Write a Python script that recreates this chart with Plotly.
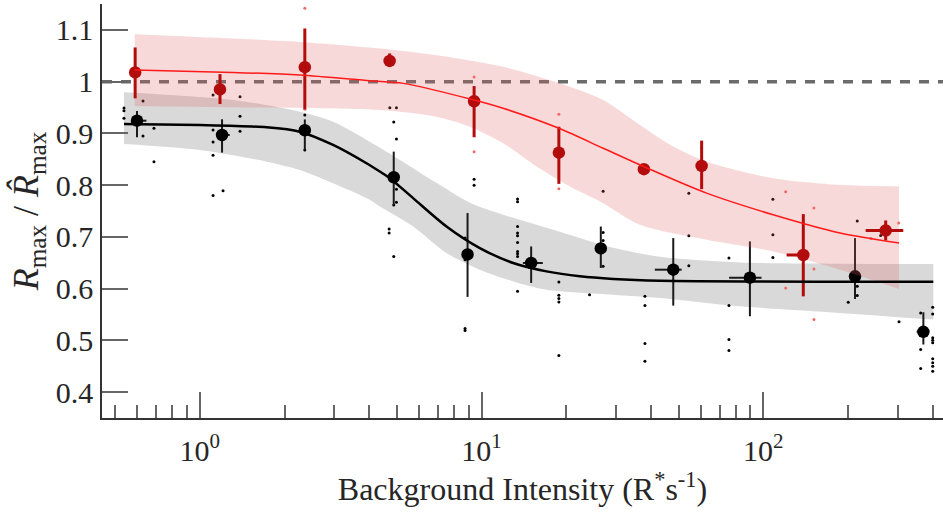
import math
import plotly.graph_objects as go

# ---------------- data ----------------
# individual cells, dark-adapted group (black)
black_cells_x = [0.5385, 0.5385, 0.5385, 0.629, 0.629, 0.688, 0.688,
                 1.115, 1.115, 1.115, 1.115, 1.115, 1.21, 1.39, 1.39, 1.39,
                 2.36, 2.36,
                 4.727, 4.99, 4.88, 4.99, 4.99, 4.99, 4.88, 4.7, 4.7, 4.88,
                 9.41, 9.41, 8.74, 8.74, 8.74, 8.74,
                 13.42, 13.42, 13.42, 13.42, 13.42, 13.42, 13.42, 13.42, 13.42, 13.42,
                 18.81, 18.81, 18.81, 18.81, 18.81,
                 24.17, 27.0, 27.0, 27.0, 27.0,
                 38.0, 38.0, 38.0, 38.0,
                 54.4, 54.4, 54.4,
                 75.5, 75.5, 75.5, 75.5,
                 108.1, 108.1, 108.1,
                 200.1, 215.4, 215.4, 215.4, 260.8, 303.0,
                 361.7, 361.7, 361.7, 399, 399, 399, 399, 399, 399, 399, 399, 399]
black_cells_y = [0.949, 0.9438, 0.929, 0.9625, 0.895, 0.9098, 0.8454,
                 0.974, 0.9066, 0.8834, 0.8578, 0.7799, 0.7889, 0.9708, 0.933, 0.904,
                 0.9355, 0.868,
                 0.9496, 0.9496, 0.922, 0.889, 0.792, 0.767, 0.7614, 0.715, 0.7074, 0.6622,
                 0.8115, 0.7999, 0.6977, 0.6559, 0.5228, 0.519,
                 0.773, 0.768, 0.72, 0.7074, 0.7022, 0.6892, 0.6719, 0.6674, 0.6622, 0.5948,
                 0.6129, 0.587, 0.5807, 0.5743, 0.4708,
                 0.5884, 0.7884, 0.7085, 0.6931, 0.643,
                 0.5851, 0.5672, 0.4939, 0.4598,
                 0.7845, 0.7022, 0.6443,
                 0.6592, 0.5672, 0.5016, 0.4804,
                 0.7729, 0.7041, 0.6603,
                 0.5735, 0.7305, 0.6044, 0.5865, 0.7027, 0.5358,
                 0.5531, 0.4823, 0.4457, 0.5639, 0.5512, 0.5049, 0.5003, 0.4953, 0.4644,
                 0.4567, 0.4501, 0.4405]

# individual cells, red group
red_cells_x = [2.36, 2.36, 9.41, 9.41, 18.81, 18.81, 60.4, 60.4,
               120.0, 120.0, 151.2, 151.2, 151.2, 241.0, 302.2]
red_cells_y = [1.1418, 0.9465, 1.0088, 0.8647, 0.9368, 0.7928, 0.8724, 0.8005,
               0.787, 0.6013, 0.7556, 0.638, 0.5402, 0.697, 0.7266]

# binned means with ranges
black_mean_x = [0.599, 1.2, 2.36, 4.88, 8.92, 15.0, 26.5, 47.9, 89.6, 211.5, 369.7]
black_mean_y = [0.9245, 0.8969, 0.906, 0.8153, 0.6661, 0.6495, 0.6777, 0.6366, 0.6212, 0.6237, 0.5165]
black_top = [0.9432, 0.9272, 0.927, 0.8647, 0.746, 0.6815, 0.72, 0.6977, 0.6912, 0.6977, 0.5543]
black_bottom = [0.8925, 0.8628, 0.868, 0.762, 0.584, 0.611, 0.64, 0.5672, 0.5466, 0.580, 0.492]
black_x_low = [0.572, 1.146, 2.36, 4.88, 8.92, 14.02, 26.5, 41.2, 75.6, 211.5, 350.0]
black_x_high = [0.647, 1.278, 2.36, 4.88, 8.92, 16.5, 26.5, 51.3, 98.5, 211.5, 369.7]

red_mean_x = [0.59, 1.18, 2.36, 4.72, 9.41, 18.81, 37.68, 60.4, 138.6, 271.7]
red_mean_y = [1.0178, 0.985, 1.028, 1.040, 0.962, 0.8628, 0.8308, 0.8371, 0.665, 0.7124]
red_top = [1.066, 1.0145, 1.1027, 1.0545, 0.9914, 0.9129, 0.8308, 0.886, 0.744, 0.7317]
red_bottom = [0.9677, 0.9567, 0.9465, 1.0286, 0.8925, 0.8024, 0.8308, 0.7922, 0.5851, 0.6931]
red_x_low = [0.59, 1.18, 2.36, 4.72, 9.41, 18.81, 37.68, 60.4, 120.9, 230.7]
red_x_high = [0.59, 1.18, 2.36, 4.72, 9.41, 18.81, 37.68, 60.4, 138.6, 313.7]

# fitted curves
black_fit_x = [0.5385, 1.0, 1.725, 2.265, 2.973, 3.906, 4.355, 4.727, 5.717, 7.51,
               9.86, 12.95, 17.01, 22.34, 29.33, 42.95, 401]
black_fit_y = [0.9181, 0.9162, 0.9118, 0.9033, 0.8776, 0.8423, 0.8262, 0.8134, 0.7749, 0.7201,
               0.6784, 0.6495, 0.6333, 0.6237, 0.6187, 0.6154, 0.6135]
red_fit_x = [0.5878, 1.313, 2.265, 4.013, 5.27, 9.41, 11.93, 18.81, 27.02, 37.68,
             62.9, 108.4, 187.1, 303]
red_fit_y = [1.0223, 1.0178, 1.0126, 1.0016, 0.9966, 0.9644, 0.9484, 0.9098, 0.8713, 0.8358,
             0.7845, 0.7427, 0.7074, 0.6881]

# confidence bands
black_band_upper_x = [0.5385, 1.313, 2.265, 2.973, 4.013, 5.27, 6.92, 9.09, 11.93, 17.01,
                      29.33, 42.95, 82.6, 187.1, 401]
black_band_upper_y = [0.9793, 0.9644, 0.9418, 0.9226, 0.884, 0.8449, 0.8044, 0.7658, 0.7427, 0.7176,
                      0.679, 0.6617, 0.6507, 0.6482, 0.6476]
black_band_lower_x = [0.5385, 1.0, 1.725, 2.265, 2.973, 3.906, 4.355, 5.717, 7.51, 9.86,
                      12.95, 17.01, 29.33, 42.95, 82.6, 187.1, 401]
black_band_lower_y = [0.8796, 0.868, 0.8454, 0.8294, 0.8038, 0.7749, 0.7587, 0.7201, 0.6688, 0.6366,
                      0.614, 0.598, 0.5884, 0.582, 0.5658, 0.5531, 0.5402]
red_band_upper_x = [0.5878, 1.313, 2.265, 4.013, 6.923, 11.93, 20.58, 27.02, 36.48, 47.88,
                    62.9, 108.4, 187.1, 303]
red_band_upper_y = [1.0917, 1.0834, 1.0768, 1.066, 1.0512, 1.0286, 0.990, 0.9644, 0.9162, 0.8744,
                    0.8454, 0.8134, 0.8005, 0.7972]
red_band_lower_x = [0.5878, 1.313, 4.355, 6.923, 9.09, 11.93, 15.68, 20.58, 27.02, 36.48,
                    62.9, 108.4, 187.1, 303]
red_band_lower_y = [0.9528, 0.9503, 0.9451, 0.9322, 0.9129, 0.8809, 0.8358, 0.7972, 0.7652, 0.7234,
                    0.6944, 0.6719, 0.6366, 0.5994]

reference_level = 1.0

x_minor_ticks = [0.5, 0.6, 0.7, 0.8, 0.9, 2, 3, 4, 5, 6, 7, 8, 9,
                 20, 30, 40, 50, 60, 70, 80, 90, 200, 300, 400]
x_major_ticks = [1, 10, 100]
x_major_labels = ["10<sup>0</sup>", "10<sup>1</sup>", "10<sup>2</sup>"]
y_ticks = [0.4, 0.5, 0.6, 0.7, 0.8, 0.9, 1.0, 1.1]
y_labels = ["0.4", "0.5", "0.6", "0.7", "0.8", "0.9", "1", "1.1"]

# ---------------- styles ----------------
BLACK = "#000000"
RED = "#b30c0c"
RED_DOT = "#f06a6a"
GRAY_FILL = "rgba(128,128,128,0.30)"
RED_FILL = "rgba(225,95,95,0.24)"
FONT = "Liberation Serif"
TEXT = "#262626"

fig = go.Figure()

# gray band
fig.add_trace(go.Scatter(x=black_band_lower_x, y=black_band_lower_y, mode="lines",
                         line=dict(width=0, shape="spline", smoothing=0.8),
                         hoverinfo="skip", showlegend=False))
fig.add_trace(go.Scatter(x=black_band_upper_x, y=black_band_upper_y, mode="lines",
                         line=dict(width=0, shape="spline", smoothing=0.8),
                         fill="tonexty", fillcolor=GRAY_FILL,
                         hoverinfo="skip", showlegend=False))

# black individual cells
fig.add_trace(go.Scatter(x=black_cells_x, y=black_cells_y, mode="markers",
                         marker=dict(color=BLACK, size=3), showlegend=False))

# black means
fig.add_trace(go.Scatter(
    x=black_mean_x, y=black_mean_y, mode="markers",
    marker=dict(color=BLACK, size=12.5),
    error_y=dict(type="data", symmetric=False,
                 array=[t - m for t, m in zip(black_top, black_mean_y)],
                 arrayminus=[m - b for b, m in zip(black_bottom, black_mean_y)],
                 color="#1a1a1a", thickness=2, width=0),
    error_x=dict(type="data", symmetric=False,
                 array=[h - m for h, m in zip(black_x_high, black_mean_x)],
                 arrayminus=[m - l for l, m in zip(black_x_low, black_mean_x)],
                 color="#1a1a1a", thickness=2, width=0),
    showlegend=False))

# red band
fig.add_trace(go.Scatter(x=red_band_lower_x, y=red_band_lower_y, mode="lines",
                         line=dict(width=0, shape="spline", smoothing=0.8),
                         hoverinfo="skip", showlegend=False))
fig.add_trace(go.Scatter(x=red_band_upper_x, y=red_band_upper_y, mode="lines",
                         line=dict(width=0, shape="spline", smoothing=0.8),
                         fill="tonexty", fillcolor=RED_FILL,
                         hoverinfo="skip", showlegend=False))

# red individual cells
fig.add_trace(go.Scatter(x=red_cells_x, y=red_cells_y, mode="markers",
                         marker=dict(color=RED_DOT, size=3), showlegend=False))

# red means
fig.add_trace(go.Scatter(
    x=red_mean_x, y=red_mean_y, mode="markers",
    marker=dict(color=RED, size=12.5),
    error_y=dict(type="data", symmetric=False,
                 array=[t - m for t, m in zip(red_top, red_mean_y)],
                 arrayminus=[m - b for b, m in zip(red_bottom, red_mean_y)],
                 color=RED, thickness=3, width=0),
    error_x=dict(type="data", symmetric=False,
                 array=[h - m for h, m in zip(red_x_high, red_mean_x)],
                 arrayminus=[m - l for l, m in zip(red_x_low, red_mean_x)],
                 color=RED, thickness=3, width=0),
    showlegend=False))

# fitted curves
fig.add_trace(go.Scatter(x=black_fit_x, y=black_fit_y, mode="lines",
                         line=dict(color=BLACK, width=2.5, shape="spline", smoothing=0.8),
                         showlegend=False))
fig.add_trace(go.Scatter(x=red_fit_x, y=red_fit_y, mode="lines",
                         line=dict(color="#ff1a1a", width=1.5, shape="spline", smoothing=0.8),
                         showlegend=False))

# reference level
fig.add_shape(type="line", xref="paper", x0=0, x1=1, yref="y",
              y0=reference_level, y1=reference_level, layer="below",
              line=dict(color="#6b6b6b", width=3.5, dash="10px,9px"))

fig.update_layout(
    width=943, height=521,
    margin=dict(l=102, r=0, t=4, b=103),
    paper_bgcolor="white", plot_bgcolor="white",
    font=dict(family=FONT, color=TEXT, size=30),
    xaxis=dict(
        type="log",
        range=[math.log10(0.45), math.log10(434)],
        showgrid=False, zeroline=False,
        showline=True, linecolor="#333333", linewidth=1.5,
        tickmode="array", tickvals=x_major_ticks, ticktext=x_major_labels,
        ticks="inside", ticklen=26, tickwidth=1.5, tickcolor="#666666",
        ticklabelstandoff=5,
        tickfont=dict(family=FONT, size=30, color=TEXT),
        minor=dict(tickmode="array", tickvals=x_minor_ticks, ticks="inside",
                   ticklen=13, tickwidth=1.5, tickcolor="#666666", showgrid=False),
        title=dict(text="Background Intensity (R<sup>*</sup>s<sup>-1</sup>)",
                   font=dict(family=FONT, size=32, color=TEXT), standoff=8),
    ),
    yaxis=dict(
        range=[0.35, 1.15],
        showgrid=False, zeroline=False,
        showline=True, linecolor="#333333", linewidth=1.5,
        tickmode="array", tickvals=y_ticks, ticktext=y_labels,
        ticks="inside", ticklen=26, tickwidth=1.5, tickcolor="#666666",
        ticklabelstandoff=1,
        tickfont=dict(family=FONT, size=30, color=TEXT),
        title=dict(text="<i>R</i><sub>max</sub> / <i>R\u0302</i><sub>max</sub>",
                   font=dict(family=FONT, size=36, color=TEXT), standoff=6),
    ),
)

fig.write_html("out.html")
